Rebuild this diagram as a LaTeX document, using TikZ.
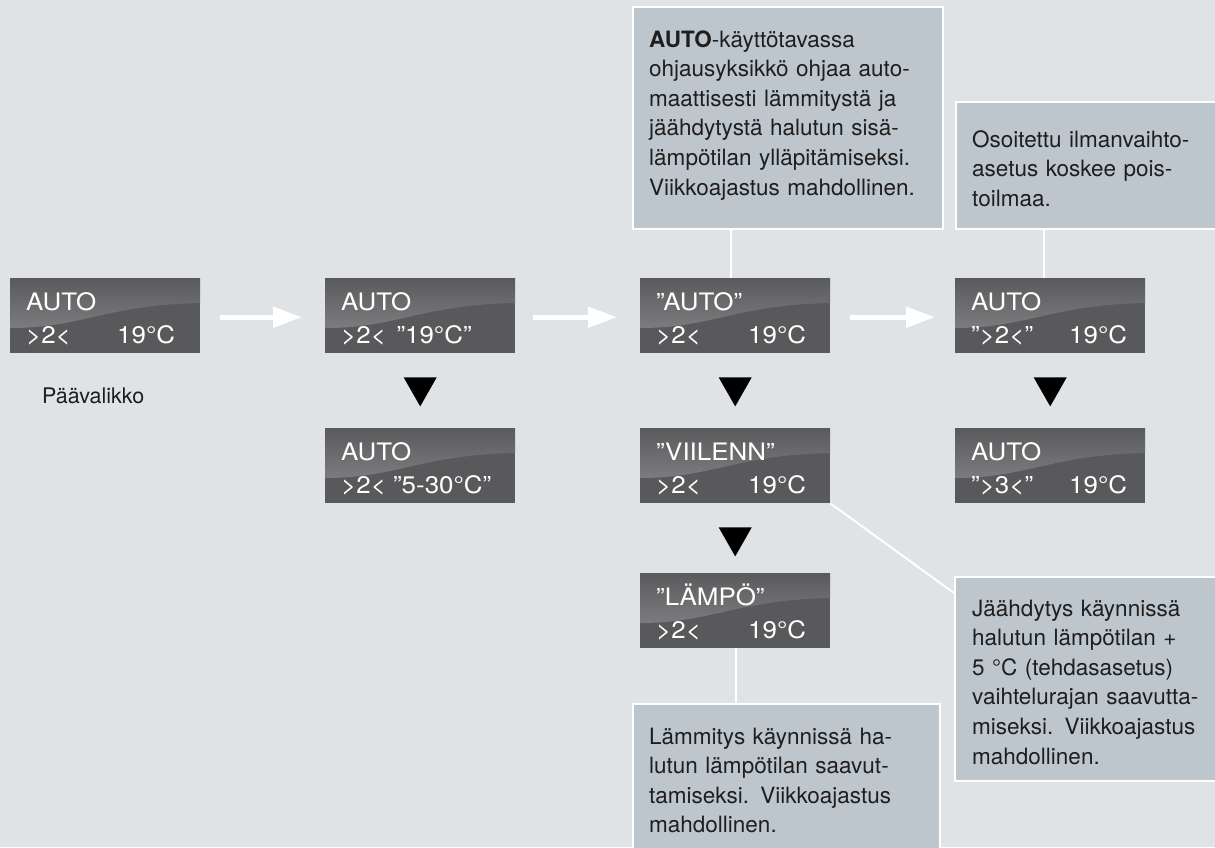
\documentclass[tikz,border=0pt]{standalone}
\usepackage{fontspec}
\setmainfont{TeX Gyre Heros}
\usetikzlibrary{arrows.meta,calc}

\definecolor{bg}{HTML}{DFE3E6}
\definecolor{lcdbase}{HTML}{59595B}
\definecolor{lcdtop}{HTML}{5A5A5C}
\definecolor{lcdglow}{HTML}{7C7C7E}
\definecolor{notefill}{HTML}{BEC6CD}
\definecolor{notetext}{HTML}{1E1E1E}

% wide display lettering
\newcommand\lcdstr[1]{\scalebox{1.08}[1]{#1}}

\tikzset{
  lcd/.style={rectangle, fill=lcdbase, inner sep=0pt, minimum width=190pt,
    minimum height=75pt, anchor=north west},
  lcdtext/.style={text=white, inner sep=0pt, anchor=base west,
    font=\fontsize{24}{28}\selectfont},
  note/.style={rectangle, fill=notefill, draw=white, line width=2pt,
    inner sep=0pt, anchor=north west},
  notetxt/.style={text=notetext, inner sep=0pt, anchor=base west, align=left,
    text width=300pt, font=\fontsize{22.5}{29.6}\selectfont},
  flow/.style={draw=white, line width=5pt,
    -{Triangle[length=29pt,width=20pt]}},
  link/.style={draw=white, line width=2pt},
  stepmark/.style={fill=black},
}

% One display panel: name, left x, top y, first line, second line left,
% second line right part and its offset from the left edge
\newcommand\lcdpanel[7]{%
  \node[lcd] (#1) at (#2,#3) {};
  \shade[top color=lcdtop, bottom color=lcdglow]
    (#2,#3) -- ({#2+190},#3) -- ({#2+190},{#3+25})
    .. controls ({#2+95},{#3+27}) and ({#2+72},{#3+50}) .. (#2,{#3+50}) -- cycle;
  \node[lcdtext] (#1-top) at ({#2+16},{#3+32}) {\lcdstr{#4}};
  \node[lcdtext] (#1-left) at ({#2+16},{#3+65}) {\lcdstr{#5}};
  \node[lcdtext] (#1-right) at ({#2+#7},{#3+65}) {\lcdstr{#6}};
}

\begin{document}
\begin{tikzpicture}[x=1pt,y=-1pt]
  \clip (0,0) rectangle (1215,847);
  \fill[bg] (0,0) rectangle (1215,847);

  % display panels
  \lcdpanel{main}{10}{278}{AUTO}{>2<}{19°C}{107}
  \lcdpanel{temp}{325}{278}{AUTO}{>2<}{\,”19°C”}{67}
  \lcdpanel{range}{325}{428}{AUTO}{>2< ”5-30°C”}{}{0}
  \lcdpanel{mode}{640}{278}{”AUTO”}{>2<}{19°C}{108}
  \lcdpanel{cool}{640}{428}{”VIILENN”}{>2<}{19°C}{108}
  \lcdpanel{heat}{640}{573}{”LÄMPÖ”}{>2<}{19°C}{108}
  \lcdpanel{fan}{955}{278}{AUTO}{”>2<”}{19°C}{114}
  \lcdpanel{fanb}{955}{428}{AUTO}{”>3<”}{19°C}{114}

  \node[text=notetext, inner sep=0pt, anchor=base west,
    font=\fontsize{21.5}{26}\selectfont] (menu) at (42,403) {Päävalikko};

  % horizontal steps
  \draw[flow] ([xshift=20pt,yshift=-1.5pt]main.east) -- ([xshift=-23pt,yshift=-1.5pt]temp.west);
  \draw[flow] ([xshift=18pt,yshift=-1.5pt]temp.east) -- ([xshift=-23pt,yshift=-1.5pt]mode.west);
  \draw[flow] ([xshift=20pt,yshift=-1.5pt]mode.east) -- ([xshift=-20pt,yshift=-1.5pt]fan.west);

  % vertical step marks
  \foreach \p in {temp,mode,cool,fan}{
    \fill[stepmark] ([xshift=-16.5pt,yshift=-24pt]\p.south) -- ++(33,0) -- ++(-16.5,29) -- cycle;
  }

  % explanation boxes
  \node[note, minimum width=310pt, minimum height=222pt] (noteauto) at (632,6) {};
  \node[notetxt] (noteauto-t) at (649,47)
    {\textbf{AUTO}-käyttötavassa\\ohjausyksikkö ohjaa auto-\\maattisesti lämmitystä ja\\jäähdytystä halutun sisä-\\lämpötilan ylläpitämiseksi.\\Viikkoajastus mahdollinen.};

  \node[note, minimum width=275pt, minimum height=127pt] (notefan) at (955,101) {};
  \node[notetxt] (notefan-t) at (972,147)
    {Osoitettu ilmanvaihto-\\asetus koskee pois-\\toilmaa.};

  \node[note, minimum width=307pt, minimum height=160pt] (noteheat) at (632,703) {};
  \node[notetxt] (noteheat-t) at (649,744)
    {Lämmitys käynnissä ha-\\lutun lämpötilan saavut-\\tamiseksi. Viikkoajastus\\mahdollinen.};

  \node[note, minimum width=275pt, minimum height=204pt] (notecool) at (954,576) {};
  \node[notetxt] (notecool-t) at (972,616)
    {Jäähdytys käynnissä\\halutun lämpötilan +\\5 °C (tehdasasetus)\\vaihtelurajan saavutta-\\miseksi. Viikkoajastus\\mahdollinen.};

  % leader lines
  \draw[link] ([xshift=-4pt]mode.north) -- ([xshift=-4pt]mode.north |- noteauto.south);
  \draw[link] ([xshift=-6pt]fan.north) -- ([xshift=-6pt]fan.north |- notefan.south);
  \draw[link] ([xshift=1pt]heat.south) -- ([xshift=1pt]heat.south |- noteheat.north);
  \draw[link] (cool.south east) -- ([yshift=-17pt]notecool.north west);
\end{tikzpicture}
\end{document}
